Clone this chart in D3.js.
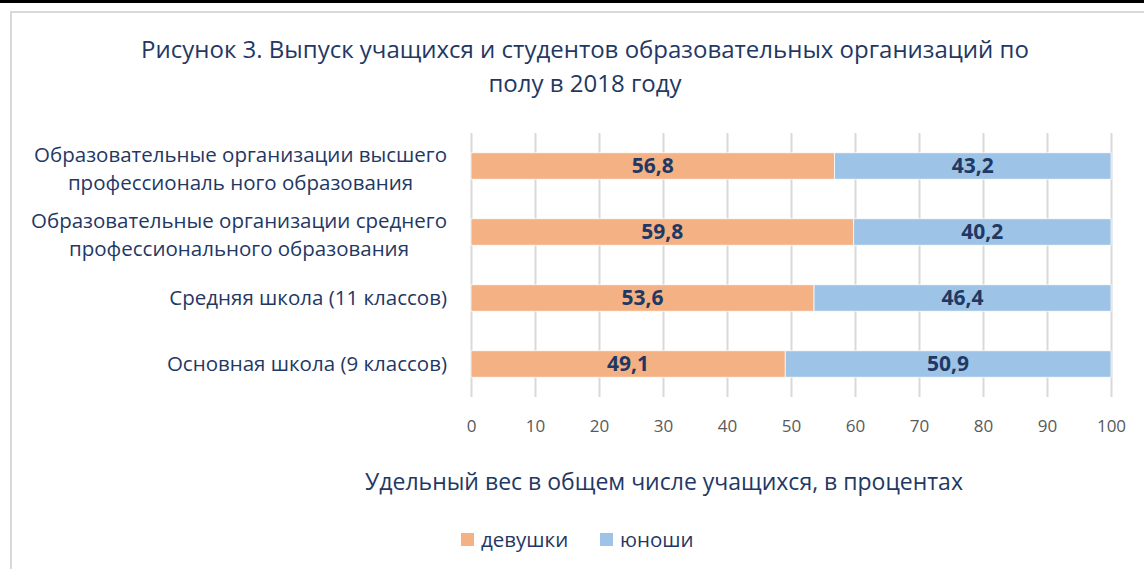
<!DOCTYPE html>
<html>
<head>
<meta charset="utf-8">
<script src="https://cdn.jsdelivr.net/npm/d3@7"></script>
<style>
  body { margin: 0; background: #fff; }
  svg { display: block; font-family: "Open Sans", sans-serif; }
</style>
</head>
<body>
<svg id="drawing_region"></svg>
<script>
// data
const categories = [
    ["Образовательные организации высшего", "профессиональ ного образования"],
    ["Образовательные организации среднего", "профессионального образования"],
    ["Средняя школа (11 классов)"],
    ["Основная школа (9 классов)"]
];
const girls = [56.8, 59.8, 53.6, 49.1];
const boys = [43.2, 40.2, 46.4, 50.9];
const seriesNames = ["девушки", "юноши"];
const xTicks = [0, 10, 20, 30, 40, 50, 60, 70, 80, 90, 100];
const titleLines = ["Рисунок 3. Выпуск учащихся и студентов образовательных организаций по", "полу в 2018 году"];
const xTitle = "Удельный вес в общем числе учащихся, в процентах";

const colors = ["#F4B183", "#9DC3E6"];
const textColor = "#1F3864";

var config = {
    width: 1144,
    height: 569,
    margin: { top: 133, right: 33, bottom: 172, left: 471 }
};

const svg = d3.select('#drawing_region')
    .attr('width', config.width)
    .attr('height', config.height);

// page decorations: black rule at top, chart frame
svg.append('rect')
    .attr('x', 0).attr('y', 0)
    .attr('width', config.width).attr('height', 3)
    .attr('fill', '#000');
svg.append('rect')
    .attr('x', 11).attr('y', 12)
    .attr('width', config.width + 20).attr('height', config.height + 20)
    .attr('fill', 'none')
    .attr('stroke', '#d9d9d9')
    .attr('stroke-width', 2);

const inner_width = config.width - config.margin.left - config.margin.right;
const inner_height = config.height - config.margin.top - config.margin.bottom;

const chart = svg.append('g')
    .attr('transform', `translate(${config.margin.left}, ${config.margin.top})`);

const xscale = d3.scaleLinear()
    .domain([0, 100])
    .range([0, inner_width]);

const yscale = d3.scaleBand()
    .domain(d3.range(categories.length))
    .range([0, inner_height])
    .paddingInner(0.6)
    .paddingOuter(0.3);

// gridlines
const grid = chart.append('g')
    .call(d3.axisBottom(xscale).tickValues(xTicks).tickSize(inner_height).tickFormat(''));
grid.select('.domain').remove();
grid.selectAll('line')
    .attr('stroke', '#d9d9d9')
    .attr('stroke-width', 2);

// tick labels
const xaxis_group = chart.append('g')
    .attr('transform', `translate(0, ${inner_height})`)
    .call(d3.axisBottom(xscale).tickValues(xTicks).tickSize(0).tickPadding(23));
xaxis_group.select('.domain').remove();
xaxis_group.selectAll('text')
    .attr('fill', '#595959')
    .attr('font-size', '17px')
    .attr('font-family', '"Open Sans", sans-serif');

// stacked bars
const rows = girls.map((g, i) => ({ idx: i, g: g, b: boys[i] }));
const stack = d3.stack().keys(['g', 'b']);
const layers = stack(rows);

const fmt = v => v.toFixed(1).replace('.', ',');

layers.forEach((layer, li) => {
    chart.append('g')
        .selectAll('rect')
        .data(layer)
        .enter()
        .append('rect')
        .attr('x', d => xscale(d[0]))
        .attr('y', d => yscale(d.data.idx))
        .attr('width', d => xscale(d[1]) - xscale(d[0]))
        .attr('height', yscale.bandwidth())
        .attr('fill', colors[li])
        .attr('stroke', '#fff')
        .attr('stroke-width', 0.75);

    chart.append('g')
        .selectAll('text')
        .data(layer)
        .enter()
        .append('text')
        .attr('x', d => xscale((d[0] + d[1]) / 2))
        .attr('y', d => yscale(d.data.idx) + yscale.bandwidth() / 2)
        .attr('dy', '0.35em')
        .attr('text-anchor', 'middle')
        .attr('font-size', '21px')
        .attr('font-weight', 'bold')
        .attr('fill', textColor)
        .text(d => fmt(d[1] - d[0]));
});

// category labels (multi-line ones are centred as a block, right edge at the axis gap)
const lineH = 28;
const labelRight = -24;
categories.forEach((lines, i) => {
    const cy = yscale(i) + yscale.bandwidth() / 2 + (i < 2 ? 3 : 0);
    const t = chart.append('text')
        .attr('text-anchor', 'middle')
        .attr('font-size', '20.5px')
        .attr('fill', textColor);
    const spans = lines.map((ln, j) => t.append('tspan')
        .attr('y', cy + (j - (lines.length - 1) / 2) * lineH)
        .attr('dy', '0.35em')
        .text(ln));
    const maxW = d3.max(spans, s => s.node().getComputedTextLength());
    spans.forEach(s => s.attr('x', labelRight - maxW / 2));
});

// title
svg.append('text')
    .attr('text-anchor', 'middle')
    .attr('font-size', '24px')
    .attr('fill', textColor)
    .selectAll('tspan')
    .data(titleLines)
    .enter()
    .append('tspan')
    .attr('x', 585)
    .attr('y', (d, i) => 58 + i * 34)
    .text(d => d);

// axis title
svg.append('text')
    .attr('x', 664)
    .attr('y', 490)
    .attr('text-anchor', 'middle')
    .attr('font-size', '23px')
    .attr('fill', textColor)
    .text(xTitle);

// legend
const legend = svg.append('g').attr('transform', 'translate(461, 540)');
const legendX = [0, 139];
seriesNames.forEach((name, i) => {
    const item = legend.append('g').attr('transform', `translate(${legendX[i]}, 0)`);
    item.append('rect')
        .attr('x', 0).attr('y', -7)
        .attr('width', 13).attr('height', 13)
        .attr('fill', colors[i]);
    item.append('text')
        .attr('x', 20)
        .attr('y', 0)
        .attr('dy', '0.35em')
        .attr('font-size', '20.5px')
        .attr('fill', textColor)
        .text(name);
});
</script>
</body>
</html>
